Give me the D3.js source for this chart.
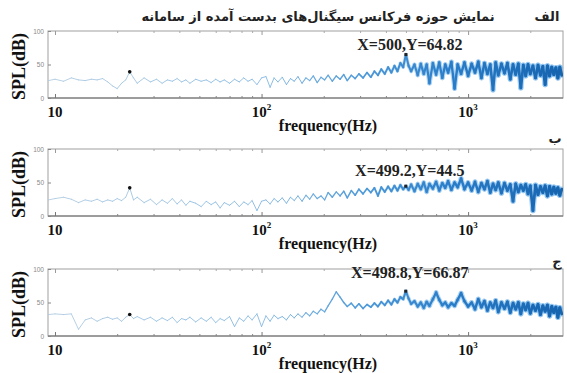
<!DOCTYPE html>
<html><head><meta charset="utf-8">
<script src="https://cdn.jsdelivr.net/npm/d3@7"></script>
<style>body{margin:0;background:#fff}svg{display:block}</style>
</head><body>
<svg id="c" width="567" height="373"></svg>
<script>
// ---- data ----
const freqs = [9.3,10,11,12,13,14,15,16,17,18,19,20,21,22,23,24,25,27,29,31,33,35,37,39,41,43,45,48,51,54,57,60,63,66,70,74,78,82,86,90,95,100,
105,110,115,120,126,132,138,144,150,157,164,171,178,186,194,202,210,220,230,240,250,260,272,284,296,310,324,338,352,366,380,395,410,425,440,455,470,485,500,515,530,550,570,590,610,630,650,675,700,725,750,775,800,830,860,890,925,960,1000,
1040,1080,1120,1160,1200,1240,1280,1320,1360,1400,1450,1500,1550,1600,1650,1700,1750,1800,1850,1900,1950,2000,2060,2120,2180,2240,2300,2360,2420,2480,2540,2600,2660,2720,2780,2840];
const splA = [26,28,25,30,27,26,28,27,29,24,18,14,22,27,39,30,22,30,24,28,22,27,25,29,24,27,22,28,25,27,23,28,24,27,22,28,24,30,25,28,20,30,
32,16,30,24,31,20,29,25,32,22,30,26,33,23,31,27,34,25,33,28,35,26,34,29,36,30,38,31,40,34,43,36,46,38,48,40,52,46,64.82,48,40,50,34,51,36,50,22,52,35,53,30,50,38,54,14,50,36,53,33,
51,38,54,30,52,36,50,12,53,34,51,37,52,28,50,35,51,15,49,33,50,36,48,30,49,34,47,20,48,33,46,35,45,30,46,34];
const splB = [24,26,28,25,20,24,22,25,21,24,22,26,23,28,42,24,28,20,25,17,24,19,26,18,24,16,22,19,14,22,17,21,12,20,16,22,14,21,17,23,8,22,
24,18,26,21,27,19,28,23,30,22,31,25,33,26,30,24,35,28,36,30,37,27,38,31,40,33,41,35,42,30,43,36,44,37,45,38,46,40,44.5,39,47,37,48,40,50,36,48,41,51,38,49,42,52,39,50,43,56,40,50,
38,51,36,49,40,52,35,48,39,50,34,49,38,47,22,48,36,46,38,47,33,45,8,46,32,44,35,45,30,44,33,43,34,42,31,40];
const splC = [32,33,32,33,10,24,27,22,26,28,25,27,22,28,32,26,29,24,28,22,27,23,28,20,26,24,28,21,27,22,28,20,26,23,29,14,27,22,30,24,33,14,
30,22,31,26,29,24,32,27,33,28,35,30,37,33,40,36,45,55,66,58,50,44,49,42,48,41,47,43,49,44,51,46,53,47,55,50,58,55,66.87,56,48,52,44,50,42,51,45,55,65,54,46,50,43,49,45,54,64,52,44,
50,40,55,43,52,38,50,42,53,36,50,41,51,35,49,40,50,33,48,39,49,34,46,38,47,32,45,37,46,30,44,35,43,28,42,33];
const series = [splA, splB, splC];
const tipFreq = [500, 499.2, 498.8];
const tipVal = [64.82, 44.5, 66.87];
const dotFreq = 23;
const dotVal = [39, 42, 32];
const panelTags = ["الف", "ب", "ج"];
const majorTicks = [10, 100, 1000];
const majorLabels = [["10",""], ["10","2"], ["10","3"]];
const minorTicks = [20,30,40,50,60,70,80,90,200,300,400,500,600,700,800,900,2000];
const yTicks = [0, 50, 100];
const titleText = "نمایش حوزه فرکانس سیگنال‌های بدست آمده از سامانه";

// ---- layout / style ----
const L = 48, R = 563, PH = 67;
const tops = [31, 149, 269];
const tipDy = [-5, -10, -13];
const tagPos = [[547, 21], [555, 143], [557, 266]];

const svg = d3.select("#c");
const defs = svg.append("defs");
const x = d3.scaleLog().domain([9.25, 2880]).range([L, R]);
const wScale = d3.scaleLog().domain([9.25, 150, 600, 2880]).range([0.8, 1.0, 2.2, 3.0]).clamp(true);
const cScale = d3.scaleLog().domain([9.25, 100, 300, 800, 2880]).range(["#a8c6df","#8dbde3","#4f9ad8","#2a7dc8","#1663ae"]).clamp(true);
const hwScale = d3.scaleLog().domain([9.25, 200, 600, 2880]).range([0, 0, 4.5, 5.5]).clamp(true);
const haScale = d3.scaleLog().domain([9.25, 200, 600, 2880]).range([0, 0, 0.45, 0.55]).clamp(true);

svg.append("text").attr("x", 318).attr("y", 21).attr("text-anchor","middle")
  .attr("font-family","DejaVu Sans").attr("font-size",13).attr("font-weight","bold")
  .attr("fill","#222").text(titleText);

series.forEach((vals, i) => {
  const top = tops[i], bot = top + PH;
  const y = d3.scaleLinear().domain([0,100]).range([bot, top]);
  const g = svg.append("g");
  const cid = "clip"+i;
  defs.append("clipPath").attr("id",cid).append("rect").attr("x",L).attr("y",top).attr("width",R-L).attr("height",PH);

  // box
  g.append("rect").attr("x",L).attr("y",top).attr("width",R-L).attr("height",PH)
    .attr("fill","none").attr("stroke","#a0a0a0").attr("stroke-width",1);
  g.append("line").attr("x1",L).attr("x2",R).attr("y1",bot).attr("y2",bot).attr("stroke","#6a6a6a").attr("stroke-width",1);

  // ticks
  const ab = d3.axisBottom(x).tickValues(majorTicks).tickSize(-4).tickFormat("");
  g.append("g").attr("transform",`translate(0,${bot})`).call(ab).call(s=>{s.select(".domain").remove();s.selectAll("line").attr("stroke","#777");});
  const at = d3.axisTop(x).tickValues(majorTicks).tickSize(-4).tickFormat("");
  g.append("g").attr("transform",`translate(0,${top})`).call(at).call(s=>{s.select(".domain").remove();s.selectAll("line").attr("stroke","#999");});
  const mb = d3.axisBottom(x).tickValues(minorTicks).tickSize(-2).tickFormat("");
  g.append("g").attr("transform",`translate(0,${bot})`).call(mb).call(s=>{s.select(".domain").remove();s.selectAll("line").attr("stroke","#888");});
  const mt = d3.axisTop(x).tickValues(minorTicks).tickSize(-2).tickFormat("");
  g.append("g").attr("transform",`translate(0,${top})`).call(mt).call(s=>{s.select(".domain").remove();s.selectAll("line").attr("stroke","#aaa");});
  const ay = d3.axisLeft(y).tickValues(yTicks).tickSize(-3).tickPadding(4);
  g.append("g").attr("transform",`translate(${L},0)`).call(ay).call(s=>{
    s.select(".domain").remove();
    s.selectAll("line").attr("stroke","#888");
    s.selectAll("text").attr("font-family","Liberation Sans").attr("font-size",6.5).attr("fill","#888");
  });

  // x tick labels
  majorTicks.forEach((t, k) => {
    const tx = g.append("text").attr("x", x(t)).attr("y", bot + 19).attr("text-anchor","middle")
      .attr("font-family","Liberation Serif").attr("font-weight","bold").attr("font-size",15).attr("fill","#111");
    tx.append("tspan").text(majorLabels[k][0]);
    if (majorLabels[k][1]) tx.append("tspan").attr("dy",-7).attr("font-size",9).text(majorLabels[k][1]);
  });

  // axis titles
  g.append("text").attr("x", 328).attr("y", bot + 33).attr("text-anchor","middle")
    .attr("font-family","Liberation Serif").attr("font-weight","bold").attr("font-size",16).attr("fill","#111")
    .text("frequency(Hz)");
  g.append("text").attr("transform",`translate(25,${top + PH/2 + 2}) rotate(-90)`).attr("text-anchor","middle")
    .attr("font-family","Liberation Serif").attr("font-weight","bold").attr("font-size",18).attr("fill","#111")
    .text("SPL(dB)");

  // spectrum as segments (width/colour vary with frequency)
  const segs = d3.pairs(freqs.map((f, k) => [f, vals[k]]));
  const pg = g.append("g").attr("clip-path",`url(#${cid})`);
  pg.selectAll("line.h").data(segs).join("line").attr("class","h")
    .attr("x1", d => x(d[0][0])).attr("y1", d => y(d[0][1]))
    .attr("x2", d => x(d[1][0])).attr("y2", d => y(d[1][1]))
    .attr("stroke", "#6fb2ea").attr("stroke-opacity", d => haScale(d[0][0]))
    .attr("stroke-width", d => hwScale(d[0][0])).attr("stroke-linecap","round");
  pg.selectAll("line.s").data(segs).join("line").attr("class","s")
    .attr("x1", d => x(d[0][0])).attr("y1", d => y(d[0][1]))
    .attr("x2", d => x(d[1][0])).attr("y2", d => y(d[1][1]))
    .attr("stroke", d => cScale(d[0][0]))
    .attr("stroke-width", d => wScale(d[0][0])).attr("stroke-linecap","round");

  // marker dot
  g.append("circle").attr("cx", x(dotFreq)).attr("cy", y(dotVal[i])).attr("r", 1.8).attr("fill","#111");

  // data tip
  g.append("rect").attr("x", x(tipFreq[i]) - 1.5).attr("y", y(tipVal[i]) - 1.5).attr("width",3).attr("height",3).attr("fill","#222");
  g.append("text").attr("x", x(tipFreq[i]) + 4).attr("y", y(tipVal[i]) + tipDy[i]).attr("text-anchor","middle")
    .attr("font-family","Liberation Serif").attr("font-weight","bold").attr("font-size",16).attr("fill","#222")
    .text(`X=${tipFreq[i]},Y=${tipVal[i]}`);

  // panel tag
  g.append("text").attr("x", tagPos[i][0]).attr("y", tagPos[i][1]).attr("text-anchor","middle")
    .attr("font-family","DejaVu Sans").attr("font-weight","bold").attr("font-size",13).attr("fill","#222")
    .text(panelTags[i]);
});
</script>
</body></html>
